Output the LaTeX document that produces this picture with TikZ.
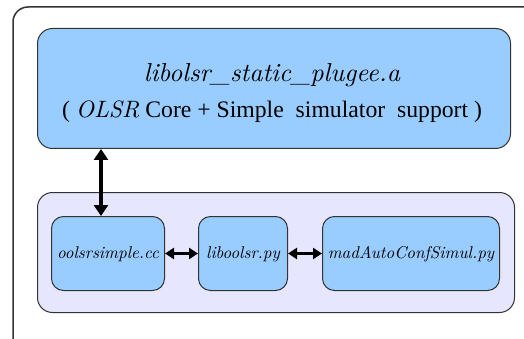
\documentclass[tikz,border=0pt]{standalone}
\usepackage{fontspec}
\setmainfont{Liberation Serif}
\newfontfamily\tms{Liberation Serif}
\newfontfamily\lmit{lmroman10}[Extension=.otf, UprightFont=*-italic, ItalicFont=*-italic]
\usetikzlibrary{arrows.meta}
\definecolor{boxblue}{HTML}{99CCFF}
\definecolor{lav}{HTML}{E6E6FF}
\definecolor{edge}{HTML}{333333}
\tikzset{
  bigbox/.style={draw=edge, line width=1pt, fill=boxblue, rounded corners=15pt},
  contbox/.style={draw=edge, line width=1pt, fill=lav, rounded corners=15pt},
  smallbox/.style={draw=edge, line width=1pt, fill=boxblue, rounded corners=12pt},
  lbl/.style={font=\fontsize{17}{19}\selectfont\lmit, inner sep=0pt},
  varrow/.style={line width=4pt, {Triangle[length=11pt,width=14pt]}-{Triangle[length=11pt,width=14pt]}},
  harrow/.style={line width=3pt, {Triangle[length=9pt,width=11pt]}-{Triangle[length=9pt,width=11pt]}},
}
\begin{document}
\begin{tikzpicture}[x=1pt,y=-1pt]
\useasboundingbox (0,0) rectangle (524,339);
\begin{scope}
\clip (0,0) rectangle (524,339);
\draw[edge, line width=1.5pt, rounded corners=15pt] (13,7) rectangle (560,360);
\end{scope}
\node[bigbox, minimum width=473pt, minimum height=120pt, anchor=north west] (top) at (37,28) {};
\node[font=\fontsize{26}{30}\selectfont\lmit, inner sep=0pt, anchor=base] (t1) at (272,82) {libolsr\_static\_plugee.a};
\node[font=\tms\fontsize{23.7}{26}\selectfont, inner sep=0pt, anchor=base] (t2) at (272,118) {( {\lmit OLSR} Core + Simple~ simulator~ support )};
\node[contbox, minimum width=477pt, minimum height=120pt, anchor=north west] (cont) at (37,192) {};
\node[smallbox, minimum width=113pt, minimum height=74pt, anchor=north west] (b1) at (51,216) {};
\node[lbl, anchor=base] at ([yshift=-5pt]b1.center) {oolsrsimple.cc};
\node[smallbox, minimum width=89pt, minimum height=74pt, anchor=north west] (b2) at (198,216) {};
\node[lbl, anchor=base] at ([yshift=-5pt]b2.center) {liboolsr.py};
\node[smallbox, minimum width=177pt, minimum height=74pt, anchor=north west] (b3) at (322,216) {};
\node[lbl, anchor=base] at ([yshift=-5pt]b3.center) {madAutoConfSimul.py};
\coordinate (a1) at (top.south -| 101,0);
\coordinate (a2) at (b1.north -| 101,0);
\draw[varrow] (a1) -- (a2);
\draw[harrow] (b1.east) -- (b2.west);
\draw[harrow] (b2.east) -- (b3.west);
\end{tikzpicture}
\end{document}
